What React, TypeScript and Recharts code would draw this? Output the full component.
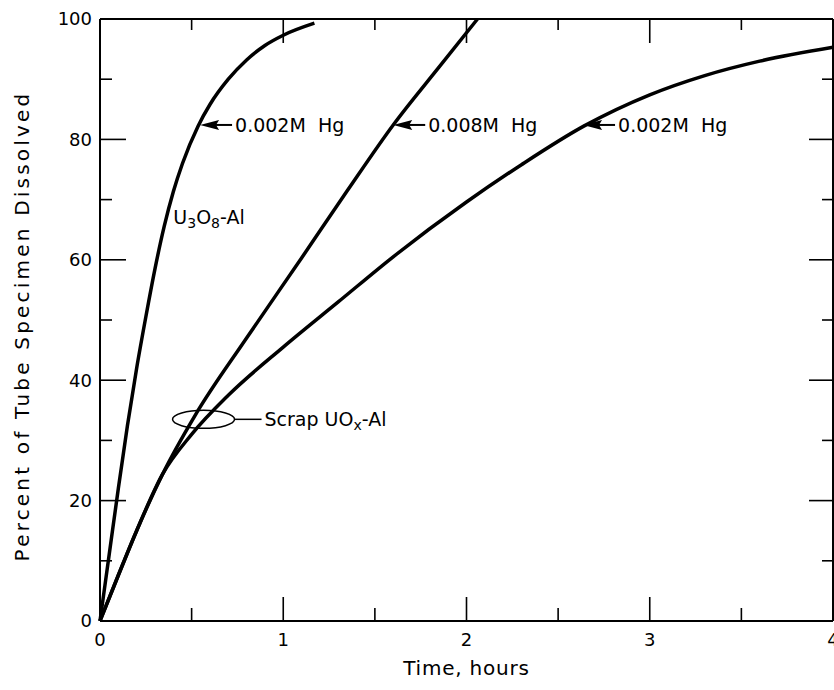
import React from "react";
import {
  LineChart,
  Line,
  XAxis,
  YAxis,
  ReferenceDot,
} from "recharts";

// U3O8-Al, 0.002M Hg
const u3o8Hours = [0, 0.05, 0.1, 0.15, 0.2, 0.25, 0.3, 0.35, 0.4, 0.45, 0.535, 0.6, 0.7, 0.8, 0.9, 1.0, 1.17];
const u3o8Pct = [0, 11, 22, 32.5, 42, 50.5, 58.5, 65.5, 71.3, 76, 82.2, 85.8, 90, 93.2, 95.6, 97.3, 99.3];

// scrap UOx-Al, 0.008M Hg
const scrapHighHours = [0, 0.1, 0.2, 0.34, 0.52, 0.8, 1.1, 1.35, 1.6, 1.85, 2.06];
const scrapHighPct = [0, 7.6, 15, 24.3, 34.2, 47, 60.3, 71.5, 82.4, 92, 100];

// scrap UOx-Al, 0.002M Hg
const scrapLowHours = [0, 0.1, 0.2, 0.34, 0.5, 0.7, 1.0, 1.3, 1.6, 2.0, 2.3, 2.64, 3.0, 3.3, 3.6, 4.0];
const scrapLowPct = [0, 7.6, 15, 24.3, 31, 37.5, 45.5, 53, 60.5, 69.6, 75.8, 82.2, 87.4, 90.6, 93, 95.3];

const xTicks = [0, 0.5, 1, 1.5, 2, 2.5, 3, 3.5, 4];
const yTicks = [0, 10, 20, 30, 40, 50, 60, 70, 80, 90, 100];

// arrow labels: [hours, percent, text]
const arrowLabels: [number, number, string][] = [
  [0.546, 82.4, "0.002M  Hg"],
  [1.6, 82.4, "0.008M  Hg"],
  [2.636, 82.4, "0.002M  Hg"],
];

const toRows = (h: number[], p: number[]) => h.map((t, i) => ({ t, p: p[i] }));

const FONT = "'DejaVu Sans', sans-serif";
const TICK_GAP = 8;

const LeftTick = (props: any) => {
  const { x, y, payload } = props;
  const major = payload.value % 20 === 0;
  const ax = x + TICK_GAP;
  return (
    <g>
      <line x1={ax} x2={ax + (major ? 26 : 12)} y1={y} y2={y} stroke="#000" strokeWidth={1.6} />
      {major && (
        <text x={x} y={y} dy="0.36em" textAnchor="end" fontSize={18} fontFamily={FONT} fill="#000">
          {payload.value}
        </text>
      )}
    </g>
  );
};

const RightTick = (props: any) => {
  const { x, y, payload } = props;
  const major = payload.value % 20 === 0;
  return <line x1={x} x2={x - (major ? 24 : 11)} y1={y} y2={y} stroke="#000" strokeWidth={1.6} />;
};

const BottomTick = (props: any) => {
  const { x, y, payload } = props;
  const major = Number.isInteger(payload.value);
  const ay = y - TICK_GAP;
  return (
    <g>
      <line x1={x} x2={x} y1={ay} y2={ay - (major ? 24 : 13)} stroke="#000" strokeWidth={1.6} />
      {major && (
        <text x={x} y={ay + 12} dy="0.71em" textAnchor="middle" fontSize={18} fontFamily={FONT} fill="#000">
          {payload.value}
        </text>
      )}
    </g>
  );
};

const TopTick = (props: any) => {
  const { x, y, payload } = props;
  const major = Number.isInteger(payload.value);
  return <line x1={x} x2={x} y1={y} y2={y + (major ? 24 : 11)} stroke="#000" strokeWidth={1.6} />;
};

const ArrowLabel = ({ cx, cy, text }: any) => (
  <g>
    <line x1={cx + 14} y1={cy} x2={cx + 32} y2={cy} stroke="#000" strokeWidth={2} />
    <polygon points={`${cx},${cy} ${cx + 19},${cy - 5} ${cx + 16},${cy} ${cx + 19},${cy + 5}`} fill="#000" />
    <text x={cx + 35} y={cy} dy="0.36em" fontSize={19} fontFamily={FONT} fill="#000" style={{ whiteSpace: "pre" }}>
      {text}
    </text>
  </g>
);

const U3O8Label = ({ cx, cy }: any) => (
  <text x={cx} y={cy} fontSize={19} fontFamily={FONT} fill="#000">
    U<tspan fontSize={14} dy={4}>3</tspan>
    <tspan dy={-4}>O</tspan>
    <tspan fontSize={14} dy={4}>8</tspan>
    <tspan dy={-4}>-Al</tspan>
  </text>
);

const ScrapLabel = ({ cx, cy }: any) => (
  <g>
    <ellipse cx={cx} cy={cy} rx={31} ry={9} fill="none" stroke="#000" strokeWidth={1.5} />
    <line x1={cx + 31} x2={cx + 58} y1={cy} y2={cy} stroke="#000" strokeWidth={1.5} />
    <text x={cx + 61} y={cy} dy="0.36em" fontSize={19} fontFamily={FONT} fill="#000">
      Scrap UO<tspan fontSize={14} dy={4}>x</tspan>
      <tspan dy={-4}>-Al</tspan>
    </text>
  </g>
);

export default function App() {
  const lowRows = toRows(scrapLowHours, scrapLowPct);
  return (
    <div style={{ position: "absolute", left: 0, top: 0, background: "#fff" }}>
      <LineChart width={834} height={690} margin={{ top: 18, right: 0, bottom: 0, left: 0 }}>
        <XAxis
          type="number"
          dataKey="t"
          domain={[0, 4]}
          ticks={xTicks}
          interval={0}
          height={69}
          tickSize={0}
          tickMargin={TICK_GAP}
          tick={<BottomTick />}
          axisLine={{ stroke: "#000", strokeWidth: 2 }}
          label={{
            content: (p: any) => {
              const vb = p.viewBox;
              return (
                <text x={vb.x + vb.width / 2} y={675} textAnchor="middle" fontSize={20} letterSpacing={0.8} fontFamily={FONT} fill="#000">
                  Time, hours
                </text>
              );
            },
          }}
        />
        <XAxis
          xAxisId="top"
          orientation="top"
          type="number"
          dataKey="t"
          domain={[0, 4]}
          ticks={xTicks}
          interval={0}
          height={1}
          tickSize={0}
          tickMargin={0}
          tick={<TopTick />}
          axisLine={{ stroke: "#000", strokeWidth: 2 }}
        />
        <YAxis
          type="number"
          domain={[0, 100]}
          ticks={yTicks}
          interval={0}
          width={100}
          tickSize={0}
          tickMargin={TICK_GAP}
          tick={<LeftTick />}
          axisLine={{ stroke: "#000", strokeWidth: 2 }}
          label={{
            content: (p: any) => {
              const vb = p.viewBox;
              const cx = 22;
              const cy = vb.y + vb.height / 2 + 6;
              return (
                <text
                  x={cx}
                  y={cy}
                  transform={`rotate(-90 ${cx} ${cy})`}
                  textAnchor="middle"
                  dy="0.36em"
                  fontSize={20}
                  letterSpacing={3.2}
                  fontFamily={FONT}
                  fill="#000"
                >
                  Percent of Tube Specimen Dissolved
                </text>
              );
            },
          }}
        />
        <YAxis
          yAxisId="right"
          orientation="right"
          type="number"
          domain={[0, 100]}
          ticks={yTicks}
          interval={0}
          width={1}
          tickSize={0}
          tickMargin={0}
          tick={<RightTick />}
          axisLine={{ stroke: "#000", strokeWidth: 2 }}
        />
        <Line data={toRows(u3o8Hours, u3o8Pct)} dataKey="p" type="monotone" stroke="#000" strokeWidth={3.5} dot={false} isAnimationActive={false} />
        <Line data={toRows(scrapHighHours, scrapHighPct)} dataKey="p" type="monotone" stroke="#000" strokeWidth={3.5} dot={false} isAnimationActive={false} />
        <Line data={lowRows} dataKey="p" type="monotone" stroke="#000" strokeWidth={3.5} dot={false} isAnimationActive={false} />
        {/* same series bound to the mirrored frame axes, so they get drawn */}
        <Line data={lowRows} xAxisId="top" yAxisId="right" dataKey="p" stroke="none" strokeOpacity={0} dot={false} activeDot={false} legendType="none" isAnimationActive={false} />
        {arrowLabels.map(([h, p, text], i) => (
          <ReferenceDot key={i} x={h} y={p} r={0} shape={(s: any) => <ArrowLabel cx={s.cx} cy={s.cy} text={text} />} />
        ))}
        <ReferenceDot x={0.4} y={66} r={0} shape={(s: any) => <U3O8Label cx={s.cx} cy={s.cy} />} />
        <ReferenceDot x={0.565} y={33.5} r={0} shape={(s: any) => <ScrapLabel cx={s.cx} cy={s.cy} />} />
      </LineChart>
    </div>
  );
}
